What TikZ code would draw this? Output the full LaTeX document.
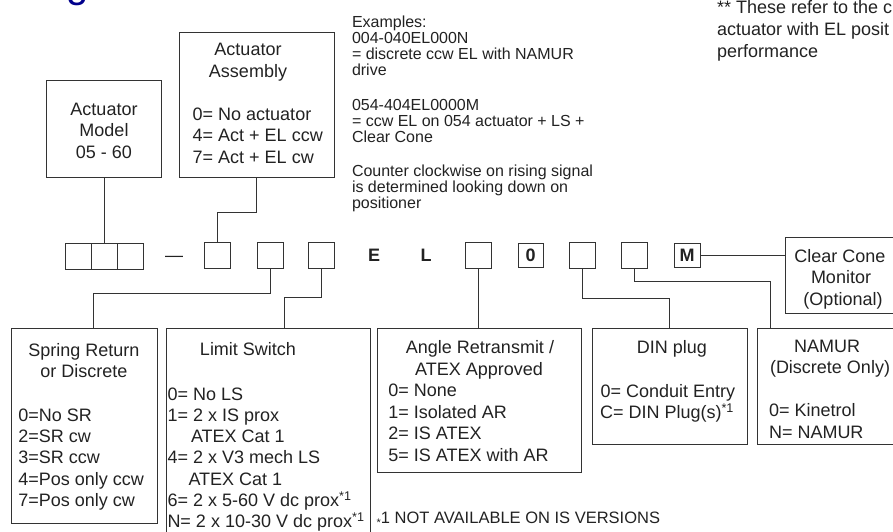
\documentclass[tikz,border=0pt]{standalone}
\usepackage{fontspec}
\setmainfont{Liberation Sans}
\usetikzlibrary{positioning}
\definecolor{ln}{HTML}{333333}
\definecolor{txt}{HTML}{222222}
\definecolor{titleblue}{HTML}{00008C}
\newcommand{\boxfont}{\fontsize{18}{21}\selectfont}
\newcommand{\notefont}{\fontsize{16}{16}\selectfont}
\newcommand{\remfont}{\fontsize{18}{22}\selectfont}
\newcommand{\fnmark}{\textsuperscript{*1}}

\begin{document}
\begin{tikzpicture}
[
  x=1pt, y=-1pt,
  every node/.style={inner sep=0pt, outer sep=0pt, font=\boxfont, text=txt},
  frame/.style={draw=ln, line width=1pt},
  cell/.style={frame, minimum width=26, minimum height=26},
  head/.style={anchor=base},
  item/.style={anchor=base west},
  wire/.style={draw=ln, line width=1pt}
]
\useasboundingbox (0,0) rectangle (893,531);

% title remnant and remarks
\node[anchor=base west, font=\fontsize{40}{40}\selectfont, text=titleblue] (title) at (66,-2.5) {g};
\foreach \t/\y [count=\i] in {Examples:/27, 004-040EL000N/43, = discrete ccw EL with NAMUR/59, drive/75,
  054-404EL0000M/110, = ccw EL on 054 actuator + LS +/126, Clear Cone/142,
  Counter clockwise on rising signal/176, is determined looking down on/192, positioner/208}
  \node[item, font=\notefont] (ex\i) at (352,\y) {\t};
\foreach \t/\y [count=\i] in {** These refer to the c/13.3, actuator with EL posit/35.5, performance/57.5}
  \node[item, font=\remfont] (rem\i) at (717,\y) {\t};

% upper boxes
\node[frame, minimum width=115, minimum height=97] (model) at (104,128.5) {};
\node[head] (model1) at (104,115) {Actuator};
\node[head] (model2) at (104,136.5) {Model};
\node[head] (model3) at (104,158) {05 - 60};

\node[frame, minimum width=155, minimum height=145] (asm) at (256.5,104.5) {};
\node[head] (asmh1) at (248,55) {Actuator};
\node[head] (asmh2) at (248,77) {Assembly};
\foreach \t [count=\i from 0] in {0= No actuator, 4= Act + EL ccw, 7= Act + EL cw}
  \node[item] (asm\i) at (192.7,120+21.8*\i) {\t};

% code row
\node[cell] (c1) at (78,256) {};
\node[cell] (c2) at (104,256) {};
\node[cell] (c3) at (130,256) {};
\node[anchor=base] (dash) at (174,261.5) {—};
\node[cell] (b1) at (217,255) {};
\node[cell] (b2) at (270,255) {};
\node[cell] (b3) at (321.5,255) {};
\node[anchor=base, font=\boxfont\bfseries] (e) at (374,261.7) {E};
\node[anchor=base, font=\boxfont\bfseries] (l) at (426,261.7) {L};
\node[cell] (b4) at (478,255) {};
\node[cell, minimum width=25, minimum height=24] (zero) at (530.5,255) {};
\node[anchor=base, font=\boxfont\bfseries] (zerotxt) at (zero.center |- 0,261.7) {0};
\node[cell] (b5) at (582,255) {};
\node[cell] (b6) at (634.5,255) {};
\node[cell, minimum height=24] (mbox) at (687,255) {};
\node[anchor=base, font=\boxfont\bfseries] (mtxt) at (mbox.center |- 0,261.7) {M};

% clear cone
\node[frame, minimum width=115, minimum height=76] (cc) at (842.5,275) {};
\node[head] (cc1) at (840,262) {Clear Cone};
\node[head] (cc2) at (841,283.5) {Monitor};
\node[head] (cc3) at (843,305) {(Optional)};

% lower boxes
\node[frame, minimum width=146, minimum height=195] (sr) at (84,425.5) {};
\node[head] (srh1) at (84,356.5) {Spring Return};
\node[head] (srh2) at (84,377) {or Discrete};
\foreach \t [count=\i from 0] in {0=No SR, 2=SR cw, 3=SR ccw, 4=Pos only ccw, 7=Pos only cw}
  \node[item] (sr\i) at (18.3,421.3+21.3*\i) {\t};

\node[frame, minimum width=204, minimum height=217] (ls) at (268,436.5) {};
\node[head] (lsh) at (248,355) {Limit Switch};
\foreach \t/\x [count=\i from 0] in {0= No LS/167.5, 1= 2 x IS prox/167.5, ATEX Cat 1/191, 4= 2 x V3 mech LS/167.5,
  ATEX Cat 1/188.5, 6= 2 x 5-60 V dc prox\fnmark/167.5, N= 2 x 10-30 V dc prox\fnmark/167.5}
  \node[item] (ls\i) at (\x,400+21.3*\i) {\t};

\node[frame, minimum width=204, minimum height=144] (ar) at (479,400) {};
\node[head] (arh1) at (480,353.5) {Angle Retransmit /};
\node[head] (arh2) at (479,375) {ATEX Approved};
\foreach \t [count=\i from 0] in {0= None, 1= Isolated AR, 2= IS ATEX, 5= IS ATEX with AR}
  \node[item] (ar\i) at (388.3,396.7+21.6*\i) {\t};

\node[frame, minimum width=155, minimum height=116] (din) at (669.5,386) {};
\node[head] (dinh) at (672,353) {DIN plug};
\node[item] (din0) at (600.5,397.5) {0= Conduit Entry};
\node[item] (din1) at (600,418.5) {C= DIN Plug(s)\fnmark};

\node[frame, minimum width=143, minimum height=116] (nam) at (828.5,386) {};
\node[head] (namh1) at (827,352) {NAMUR};
\node[head] (namh2) at (830,373.5) {(Discrete Only)};
\node[item] (nam0) at (769,416.7) {0= Kinetrol};
\node[item] (nam1) at (769,438.3) {N= NAMUR};

\node[item, font=\fontsize{16.5}{18}\selectfont] (foot) at (376.7,523.3)
  {\raisebox{-0.2em}{\fontsize{11}{11}\selectfont *}1 NOT AVAILABLE ON IS VERSIONS};

% connectors
\draw[wire] (model.south) -- (c2.north);
\draw[wire] (asm.south) -- ++(0,35) -| (b1.north);
\draw[wire] (b2.south) -- ++(0,25) -| ([xshift=9]sr.north);
\draw[wire] (b3.south) -- ++(0,29) -| ([xshift=16]ls.north);
\draw[wire] (b4.south) -- (b4.south |- ar.north);
\draw[wire] (b5.south) -- ++(0,30) -| (din.north);
\draw[wire] (b6.south) -- ++(0,13) -| ([xshift=13]nam.north west);
\draw[wire] (mbox.east) -- (mbox.east -| cc.west);
\end{tikzpicture}
\end{document}
